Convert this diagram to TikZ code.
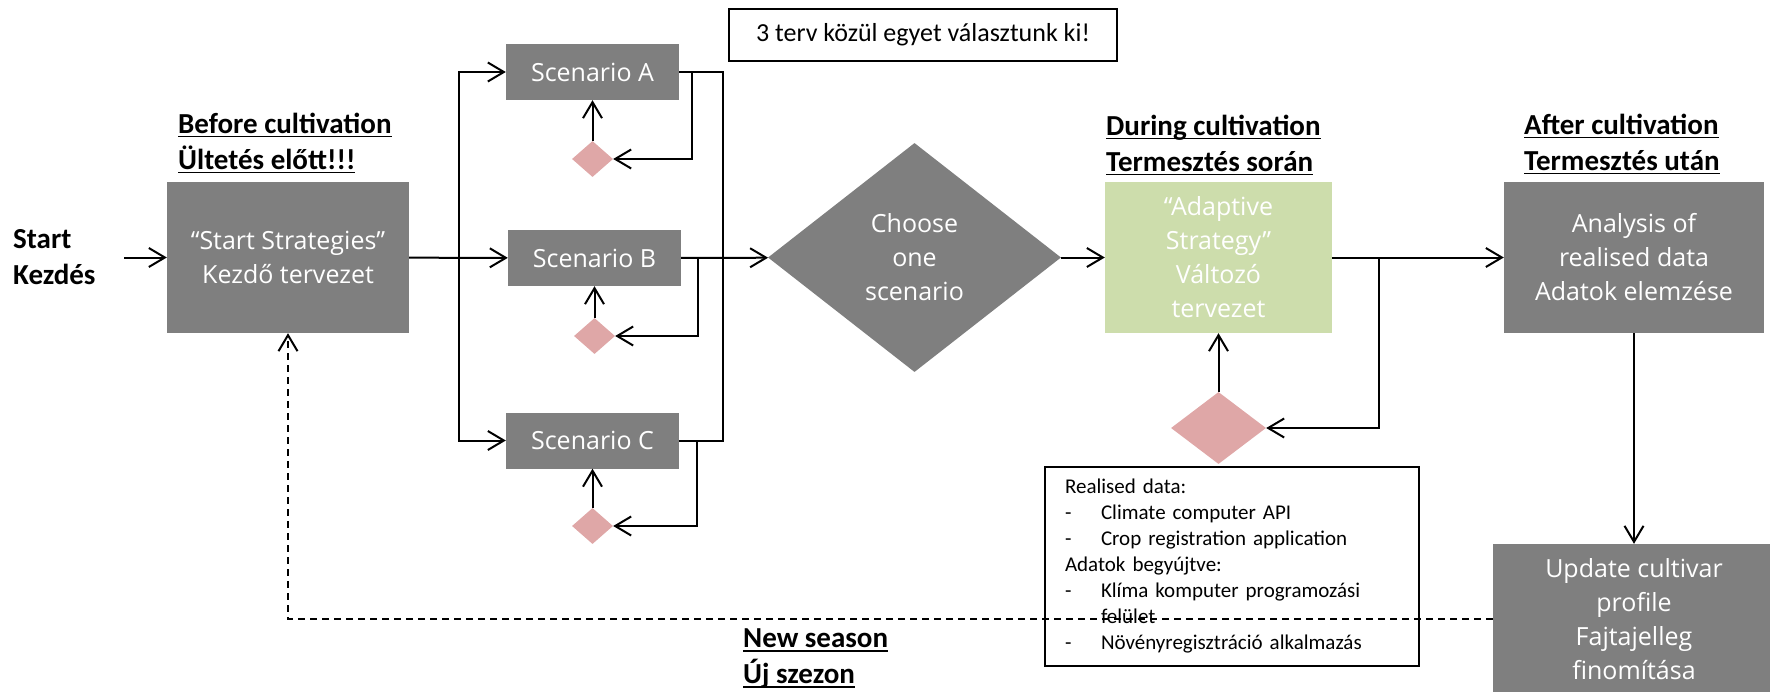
\documentclass[tikz,border=0pt]{standalone}
\usepackage{fontspec}
\setmainfont{Carlito}
\newfontfamily\opensans{Open Sans}
\usetikzlibrary{arrows.meta,shapes.geometric}

\definecolor{boxgrey}{HTML}{7F7F7F}
\definecolor{choicepink}{HTML}{DFA7A7}
\definecolor{adaptgreen}{HTML}{CDDDAC}

\newcommand{\boxtext}{\opensans\fontsize{25bp}{34bp}\selectfont}
\newcommand{\headtext}{\bfseries\fontsize{29bp}{36bp}\selectfont}
\newcommand{\datatext}{\fontsize{21bp}{26bp}\selectfont}
\newcommand{\itemdash}{\makebox[36bp][l]{-}}
\newcommand{\headul}[1]{\setbox0\hbox{#1}\leavevmode\rlap{\rule[-4bp]{\wd0}{1.6bp}}\box0}

\tikzset{
  greybox/.style={rectangle,fill=boxgrey,text=white,font=\boxtext,align=center,inner sep=0pt},
  scenbox/.style={greybox,minimum width=173bp,minimum height=56bp},
  bigbox/.style={greybox,minimum width=242bp,minimum height=151bp},
  choicedia/.style={diamond,fill=choicepink,inner sep=0pt,minimum width=41bp,minimum height=36bp},
  phase/.style={font=\headtext,align=left,inner sep=0pt,anchor=west},
  flow/.style={->,line width=2bp},
}

\begin{document}
\begin{tikzpicture}[>={Straight Barb[length=16bp,width=19bp]}]
\useasboundingbox (0,0) rectangle (1770bp,-692bp);

% before cultivation
\node (startlbl) at (13bp,-257bp)[phase] {Start\\Kezdés};
\node (before) at (178bp,-143bp)[phase] {\headul{Before cultivation}\\\headul{Ültetés előtt!!!}};
\node (startbox) at (288bp,-257.5bp)[bigbox] {“Start Strategies”\\Kezdő tervezet};

% scenarios
\node (scenA) at (592.5bp,-72bp)[scenbox] {Scenario A};
\node (scenB) at (594.5bp,-258bp)[scenbox] {Scenario B};
\node (scenC) at (592.5bp,-440.5bp)[scenbox] {Scenario C};
\node (diaA) at (592.5bp,-159bp)[choicedia] {};
\node (diaB) at (594.5bp,-336bp)[choicedia] {};
\node (diaC) at (592.5bp,-526bp)[choicedia] {};

\node (pick) at (923bp,-35bp)[draw,line width=1.2bp,minimum width=388bp,minimum height=52bp,font=\fontsize{26bp}{31bp}\selectfont] {3 terv közül egyet választunk ki!};
\node (choose) at (914.5bp,-257.5bp)[greybox,diamond,minimum width=293bp,minimum height=229bp] {Choose\\one\\scenario};

% during cultivation
\node (during) at (1106bp,-145bp)[phase] {\headul{During cultivation}\\\headul{Termesztés során}};
\node (adapt) at (1218.5bp,-257.5bp)[bigbox,fill=adaptgreen,minimum width=227bp] {“Adaptive\\Strategy”\\Változó\\tervezet};
\node (diaP) at (1218.5bp,-428bp)[choicedia,minimum width=95bp,minimum height=72bp] {};
\node (data) at (1044bp,-466bp)[anchor=north west,draw,line width=2bp,text width=334bp,minimum height=199bp,inner xsep=20bp,inner ysep=0pt,align=left,font=\datatext] {Realised data:\\
\itemdash Climate computer API\\
\itemdash Crop registration application\\
Adatok begyújtve:\\
\itemdash Klíma komputer programozási\\
\hspace*{36bp}felület\\
\itemdash Növényregisztráció alkalmazás};

% after cultivation
\node (after) at (1524bp,-144bp)[phase] {\headul{After cultivation}\\\headul{Termesztés után}};
\node (anal) at (1634bp,-257.5bp)[bigbox,minimum width=260bp] {Analysis of\\realised data\\Adatok elemzése};
\node (upd) at (1634bp,-619bp)[bigbox,minimum width=282bp,minimum height=150bp] {Update cultivar\\profile\\Fajtajelleg\\finomítása};
\node (newseason) at (743bp,-659bp)[phase] {\headul{New season}\\\headul{Új szezon}};

\coordinate (s0) at (124bp,-257.5bp);
\coordinate (split) at (459bp,-257.5bp);
\coordinate (join) at (723bp,-258bp);
\coordinate (tap) at (1379bp,-257.5bp);

\draw [flow] (s0) -- (startbox);
\draw [flow] (startbox) -- (scenB);
\draw [flow] (split) |- (scenA);
\draw [flow] (split) |- (scenC);
\draw [line width=2bp] (scenA) -| (join);
\draw [line width=2bp] (scenC) -| (join);
\draw [flow] (scenB) -- (choose);
\draw [flow] (scenA.east) -- ++(13bp,0) |- (diaA);
\draw [flow] (scenB.east) -- ++(17bp,0) |- (diaB);
\draw [flow] (scenC.east) -- ++(18bp,0) |- (diaC);
\draw [flow] (diaA) -- (scenA);
\draw [flow] (diaB) -- (scenB);
\draw [flow] (diaC) -- (scenC);
\draw [flow] (choose) -- (adapt);
\draw [flow] (adapt) -- (anal);
\draw [flow] (tap) |- (diaP);
\draw [flow] (diaP) -- (adapt);
\draw [flow] (anal) -- (upd);
\draw [flow,dash pattern=on 7bp off 5bp] (upd) -| (startbox);
\end{tikzpicture}
\end{document}
